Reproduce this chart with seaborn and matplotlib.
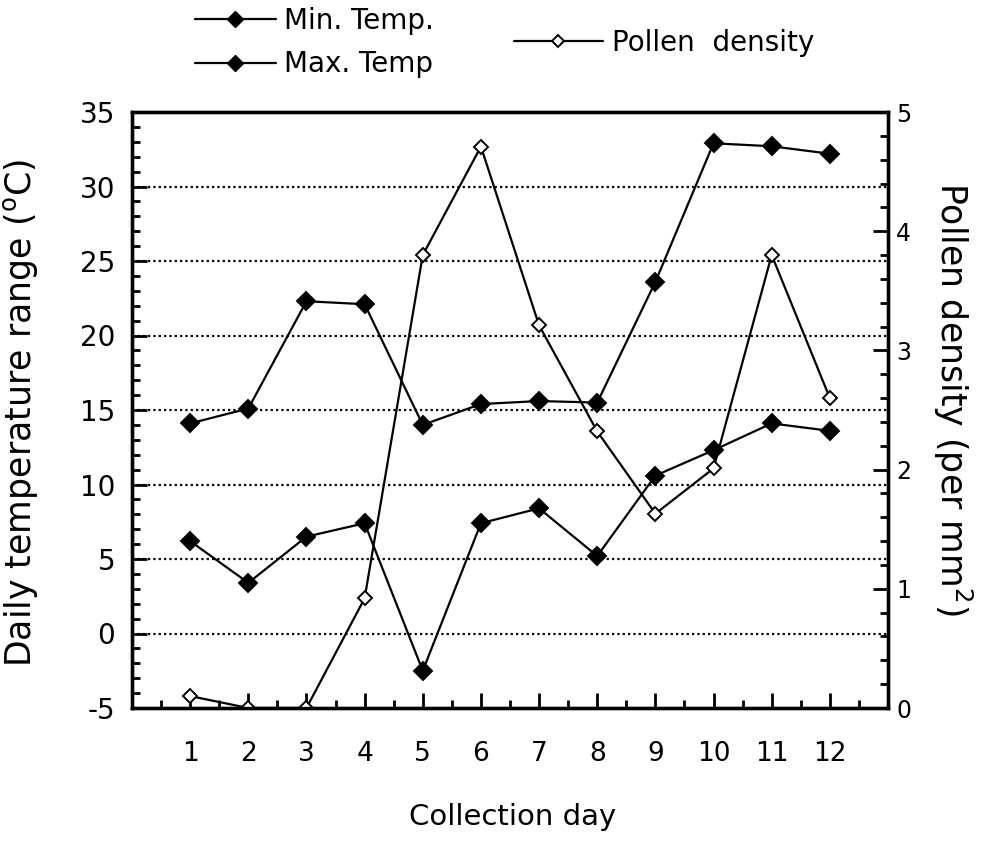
import numpy as np
import pandas as pd
import matplotlib
matplotlib.use("Agg")
import matplotlib.pyplot as plt
import seaborn as sns
from matplotlib.ticker import MultipleLocator
from matplotlib.lines import Line2D

days = [1, 2, 3, 4, 5, 6, 7, 8, 9, 10, 11, 12]
min_temp = [6.2, 3.4, 6.5, 7.4, -2.5, 7.4, 8.4, 5.2, 10.6, 12.3, 14.1, 13.6]
max_temp = [14.1, 15.1, 22.3, 22.1, 14.0, 15.4, 15.6, 15.5, 23.6, 32.9, 32.7, 32.2]
pollen = [0.1, 0.0, 0.0, 0.92, 3.8, 4.71, 3.21, 2.32, 1.63, 2.01, 3.8, 2.6]

sns.set_style("ticks")
plt.rcParams['font.family'] = ['DejaVu Sans']
plt.rcParams['axes.unicode_minus'] = False
plt.rcParams['text.color'] = 'black'
plt.rcParams['axes.labelcolor'] = 'black'
plt.rcParams['xtick.color'] = 'black'
plt.rcParams['ytick.color'] = 'black'

df = pd.DataFrame({"day": days, "min": min_temp, "max": max_temp, "pollen": pollen})

fig = plt.figure(figsize=(9.84, 8.41), dpi=100)
L, R, T, B = 132, 888, 112, 708
ax = fig.add_axes([L / 984, 1 - B / 841, (R - L) / 984, (B - T) / 841])
ax2 = ax.twinx()

kw = dict(color="black", linewidth=1.6, markeredgecolor="black", markeredgewidth=1.4)
sns.lineplot(data=df, x="day", y="min", ax=ax, marker="D", markersize=9,
             markerfacecolor="black", **kw)
sns.lineplot(data=df, x="day", y="max", ax=ax, marker="D", markersize=9,
             markerfacecolor="black", **kw)
sns.lineplot(data=df, x="day", y="pollen", ax=ax2, marker="D", markersize=7.5,
             markerfacecolor="white", **kw)

ax.set_xlim(0, 13)
ax.set_ylim(-5, 35)
ax2.set_ylim(0, 5)
ax.set_xticks(days)
ax.xaxis.set_minor_locator(MultipleLocator(0.5))
ax.yaxis.set_major_locator(MultipleLocator(5))
ax.yaxis.set_minor_locator(MultipleLocator(1))
ax2.yaxis.set_major_locator(MultipleLocator(1))
ax2.yaxis.set_minor_locator(MultipleLocator(0.2))

for y in range(0, 36, 5):
    ax.axhline(y, color="black", linestyle=(0, (1, 1.4)), linewidth=1.6, zorder=0)

for a in (ax, ax2):
    for s in a.spines.values():
        s.set_linewidth(2.4)
        s.set_color("black")
        s.set_visible(True)

ax.tick_params(axis="both", which="major", direction="in", length=11, width=2,
               labelsize=20, pad=12)
ax.tick_params(axis="both", which="minor", direction="in", length=5.5, width=2)
ax.tick_params(axis="x", which="major", labelsize=19, pad=24)
ax2.tick_params(axis="y", which="major", direction="in", length=11, width=2,
                labelsize=17, pad=6)
ax2.tick_params(axis="y", which="minor", direction="in", length=5.5, width=2)

ax.set_xlabel("Collection day", fontsize=21)
ax.xaxis.set_label_coords(0.503, -0.16)
ax.xaxis.label.set_va("top")
ax.set_ylabel("Daily temperature range ($^{\\mathregular{o}}$C)", fontsize=25)
ax.yaxis.set_label_coords(-0.122, 0.495)
ax2.set_ylabel("Pollen density (per mm$^{\\mathregular{2}}$)", fontsize=25,
               rotation=270, va="bottom")
ax2.yaxis.set_label_coords(1.057, 0.518)

filled = Line2D([], [], color="black", linewidth=1.6, marker="D", markersize=8,
                markerfacecolor="black")
hollow = Line2D([], [], color="black", linewidth=1.6, marker="D", markersize=6.5,
                markerfacecolor="white", markeredgewidth=1.4)
leg1 = fig.legend([filled, filled], ["Min. Temp.", "Max. Temp"], loc="upper left",
                  bbox_to_anchor=(195 / 984, 1 - 7 / 841), frameon=False, fontsize=20,
                  handlelength=2.9, handletextpad=0.32, labelspacing=0.55,
                  borderpad=0, borderaxespad=0)
leg2 = fig.legend([hollow], ["Pollen  density"], loc="upper left",
                  bbox_to_anchor=(514 / 984, 1 - 29 / 841), frameon=False, fontsize=20,
                  handlelength=3.2, handletextpad=0.32, borderpad=0, borderaxespad=0)

fig.savefig("out.png", dpi=100)
